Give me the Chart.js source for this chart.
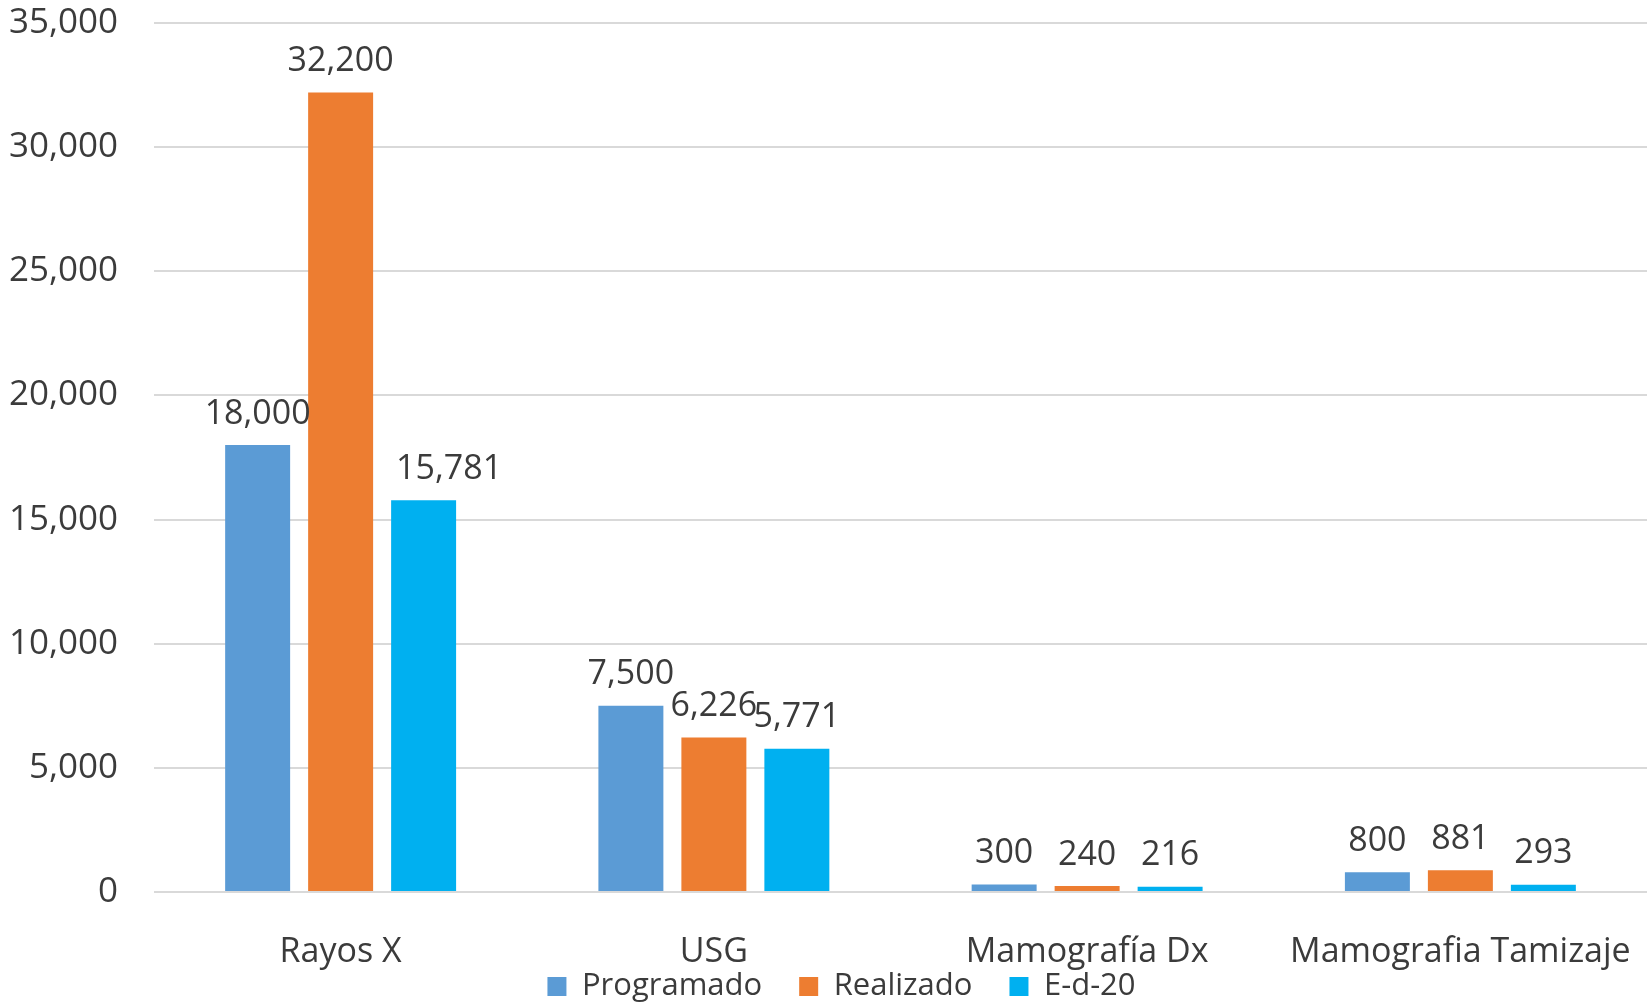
<!DOCTYPE html>
<html>
<head>
<meta charset="utf-8">
<script src="https://cdn.jsdelivr.net/npm/chart.js@4.4.1/dist/chart.umd.min.js"></script>
<style>
html,body{margin:0;padding:0;background:#fff;}
#wrap{width:1647px;height:1004px;position:relative;}
</style>
</head>
<body>
<div id="wrap"><canvas id="c" width="1647" height="1004"></canvas></div>
<script>
const categories = ["Rayos X", "USG", "Mamografía Dx", "Mamografia Tamizaje"];
const programado = [18000, 7500, 300, 800];
const realizado = [32200, 6226, 240, 881];
const ed20 = [15781, 5771, 216, 293];
const seriesNames = ["Programado", "Realizado", "E-d-20"];
const yTicks = [0, 5000, 10000, 15000, 20000, 25000, 30000, 35000];

const FONT = "'Open Sans', 'Noto Sans', sans-serif";
const TXT = '#3b3b3b';
const CANVAS_H = 1004;
const PLOT_BOTTOM = 892;
const Y_AXIS_W = 154;

// value labels above bars; a label that runs into the taller bar on its left is pushed right
const valueLabels = {
  id: 'valueLabels',
  afterDatasetsDraw(chart) {
    const ctx = chart.ctx;
    ctx.save();
    ctx.font = '34px ' + FONT;
    ctx.fillStyle = TXT;
    ctx.textBaseline = 'bottom';
    ctx.textAlign = 'left';
    chart.data.datasets.forEach((ds, i) => {
      const meta = chart.getDatasetMeta(i);
      meta.data.forEach((bar, j) => {
        const txt = ds.data[j].toLocaleString('en-US');
        const w = ctx.measureText(txt).width;
        const yb = bar.y - 14;
        let left = bar.x - w / 2;
        if (i > 0) {
          const prev = chart.getDatasetMeta(i - 1).data[j];
          const prevRight = prev.x + prev.width / 2;
          if (prev.y < yb && left < prevRight + 4) {
            left = prevRight + 23;
          }
        }
        ctx.fillText(txt, left, yb);
      });
    });
    ctx.restore();
  }
};

const layoutTweak = {
  id: 'layoutTweak',
  afterLayout(chart) {
    const lg = chart.legend;
    lg.left += 18; lg.right += 18;
    lg.top += 8; lg.bottom += 8;
    chart.scales.x.bottom = chart.height;
  }
};

new Chart(document.getElementById('c'), {
  type: 'bar',
  data: {
    labels: categories,
    datasets: [
      {label: seriesNames[0], data: programado, backgroundColor: '#5B9BD5'},
      {label: seriesNames[1], data: realizado, backgroundColor: '#ED7D31'},
      {label: seriesNames[2], data: ed20, backgroundColor: '#00B0F0'}
    ]
  },
  options: {
    responsive: false,
    animation: false,
    devicePixelRatio: 1,
    layout: {padding: {left: 0, right: 0, top: 23, bottom: 0}},
    datasets: {bar: {categoryPercentage: 0.667, barPercentage: 0.783}},
    plugins: {
      legend: {
        position: 'bottom',
        labels: {
          font: {family: FONT, size: 31},
          color: TXT,
          boxWidth: 19,
          boxHeight: 19,
          padding: 37
        }
      },
      tooltip: {enabled: false}
    },
    scales: {
      y: {
        min: 0, max: 35000,
        afterBuildTicks(axis) { axis.ticks = yTicks.map(v => ({value: v})); },
        afterFit(scale) {
          scale.paddingTop = 0;
          scale.paddingBottom = 0;
          scale.width = Y_AXIS_W;
        },
        ticks: {
          font: {family: FONT, size: 35},
          color: TXT,
          padding: 36,
          callback: v => v.toLocaleString('en-US')
        },
        grid: {color: '#D9D9D9', lineWidth: 2, drawTicks: false},
        border: {display: false}
      },
      x: {
        afterFit(scale) {
          scale.paddingLeft = 0;
          scale.paddingRight = 0;
          scale.height = Math.max(0, CANVAS_H - PLOT_BOTTOM - scale.chart.legend.height);
        },
        ticks: {font: {family: FONT, size: 34}, color: TXT, padding: 40},
        grid: {display: false, drawTicks: false},
        border: {display: false}
      }
    }
  },
  plugins: [valueLabels, layoutTweak]
});
</script>
</body>
</html>
